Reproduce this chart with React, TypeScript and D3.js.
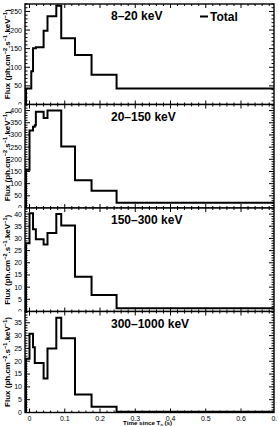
import React from "react";
import * as d3 from "d3";

// ---- data ----
const binEdges = [-0.01, 0, 0.005, 0.01, 0.015, 0.018, 0.04, 0.051, 0.076, 0.09, 0.129, 0.176, 0.247, 0.7];
const flux8to20 = [43, 43, 89, 151, 151, 154, 198, 237, 265, 178, 133, 80, 43];
const flux20to150 = [157, 318, 318, 334, 340, 395, 370, 400, 400, 253, 114, 71, 22];
const flux150to300 = [28, 40.3, 40.3, 33.8, 33.8, 29.7, 27.5, 32.2, 40, 35.3, 14.3, 6.8, 1.3];
const flux300to1000 = [21, 30.7, 30.7, 25.5, 19.3, 19.3, 13.3, 25, 37, 29, 7, 2.2, 0.3];

const bandLabels = ["8–20 keV", "20–150 keV", "150–300 keV", "300–1000 keV"];
const yAxisMax = [270, 425, 42.5, 39.4];
const yMajorStep = [50, 50, 5, 5];
const yMinorStep = [10, 10, 1, 1];
const xTickValues = [0, 0.1, 0.2, 0.3, 0.4, 0.5, 0.6, 0.7];
const xTickLabels = ["0", "0.1", "0.2", "0.3", "0.4", "0.5", "0.6", "0.7"];
const xMinorStep = 0.02;
const legendLabel = "Total";

const series = [flux8to20, flux20to150, flux150to300, flux300to1000];

const FONT = "'Liberation Sans', Arial, Helvetica, sans-serif";

function isMultiple(v: number, step: number) {
  const r = v / step;
  return Math.abs(r - Math.round(r)) < 1e-6;
}

export default function App() {
  const W = 278;
  const H = 426;
  const left = 25;
  const right = 274;
  const tops = [4, 104.5, 208, 311.5];
  const bottoms = [104.5, 208, 311.5, 412.5];

  const x = d3.scaleLinear().domain([-0.0128, 0.6936]).range([left, right]);
  const [d0, d1] = x.domain();
  const xMajorIn = xTickValues.filter((v) => v >= d0 && v <= d1);
  const xMinor = d3
    .range(0, Math.floor(d1 / xMinorStep) + 1)
    .map((k) => k * xMinorStep)
    .filter((v) => v <= d1 && !isMultiple(v, 0.1));

  return (
    <svg
      width={W}
      height={H}
      style={{ position: "absolute", left: 0, top: 0 }}
      fontFamily={FONT}
    >
      <defs>
        {tops.map((t, i) => (
          <clipPath id={`clip${i}`} key={i}>
            <rect x={left} y={t} width={right - left} height={bottoms[i] - t} />
          </clipPath>
        ))}
      </defs>
      <rect width={W} height={H} fill="white" />
      {series.map((vals, i) => {
        const top = tops[i];
        const bot = bottoms[i];
        const y = d3.scaleLinear().domain([0, yAxisMax[i]]).range([bot, top]);
        const pts: [number, number][] = [];
        pts.push([x(binEdges[0]), y(0)]);
        vals.forEach((v, j) => {
          pts.push([x(binEdges[j]), y(v)]);
          pts.push([x(binEdges[j + 1]), y(v)]);
        });
        pts.push([x(binEdges[binEdges.length - 1]), y(0)]);
        const path = d3.line()(pts) || "";
        const yMaj = d3.range(0, yAxisMax[i] + 1e-9, yMajorStep[i]);
        const yMin = d3
          .range(0, yAxisMax[i] + 1e-9, yMinorStep[i])
          .filter((v) => !isMultiple(v, yMajorStep[i]));
        const padTop = i === 0 ? 0 : top;
        const padBottom = i === 3 ? H : bot;
        const mid = (top + bot) / 2;
        return (
          <g key={i}>
            <rect x={0} y={padTop} width={W} height={padBottom - padTop} fill="white" />
            <path
              d={path}
              fill="none"
              stroke="black"
              strokeWidth={2}
              clipPath={`url(#clip${i})`}
            />
            {/* x ticks top & bottom */}
            {xMajorIn.map((v) => (
              <g key={`xm${v}`} stroke="black" strokeWidth={1}>
                <line x1={x(v)} x2={x(v)} y1={bot} y2={bot - 4} />
                <line x1={x(v)} x2={x(v)} y1={top} y2={top + 4} />
              </g>
            ))}
            {xMinor.map((v) => (
              <g key={`xn${v}`} stroke="black" strokeWidth={1}>
                <line x1={x(v)} x2={x(v)} y1={bot} y2={bot - 2} />
                <line x1={x(v)} x2={x(v)} y1={top} y2={top + 2} />
              </g>
            ))}
            {/* y ticks left & right */}
            {yMaj.map((v) => (
              <g key={`ym${v}`} stroke="black" strokeWidth={1}>
                <line x1={left} x2={left + 5} y1={y(v)} y2={y(v)} />
                <line x1={right} x2={right - 5} y1={y(v)} y2={y(v)} />
              </g>
            ))}
            {yMin.map((v) => (
              <g key={`yn${v}`} stroke="black" strokeWidth={1}>
                <line x1={left} x2={left + 2.5} y1={y(v)} y2={y(v)} />
                <line x1={right} x2={right - 2.5} y1={y(v)} y2={y(v)} />
              </g>
            ))}
            <rect
              x={left}
              y={top}
              width={right - left}
              height={bot - top}
              fill="none"
              stroke="black"
              strokeWidth={1.4}
            />
            {yMaj.map((v) => (
              <text
                key={`yl${v}`}
                x={22}
                y={y(v)}
                dy="0.35em"
                fontSize={7}
                textAnchor="end"
                fill="black"
              >
                {String(v)}
              </text>
            ))}
            <text
              x={111}
              y={top + 16}
              fontSize={12}
              fontWeight="bold"
              fill="black"
            >
              {bandLabels[i]}
            </text>
            <text
              transform={`translate(9.5, ${mid}) rotate(-90)`}
              textAnchor="middle"
              fontSize={8}
              fontWeight="bold"
              fill="black"
            >
              Flux (ph.cm
              <tspan dy={-3} fontSize={5.6}>−2</tspan>
              <tspan dy={3}>.s</tspan>
              <tspan dy={-3} fontSize={5.6}>−1</tspan>
              <tspan dy={3}>.keV</tspan>
              <tspan dy={-3} fontSize={5.6}>−1</tspan>
              <tspan dy={3}>)</tspan>
            </text>
            {i === 0 && (
              <g>
                <line x1={200} x2={208} y1={16.5} y2={16.5} stroke="black" strokeWidth={2} />
                <text x={210} y={20.5} fontSize={12} fontWeight="bold" fill="black">
                  {legendLabel}
                </text>
              </g>
            )}
            {i === 3 && (
              <g>
                {xTickValues.map((v, k) => (
                  <text
                    key={`xl${v}`}
                    x={x(v)}
                    y={420.5}
                    fontSize={7}
                    textAnchor="middle"
                    fill="black"
                  >
                    {xTickLabels[k]}
                  </text>
                ))}
                <text x={123} y={425} fontSize={6.2} fontWeight="bold" fill="black">
                  Time since T
                  <tspan dy={1.5} fontSize={4.4}>0</tspan>
                  <tspan dy={-1.5}> (s)</tspan>
                </text>
              </g>
            )}
          </g>
        );
      })}
    </svg>
  );
}
